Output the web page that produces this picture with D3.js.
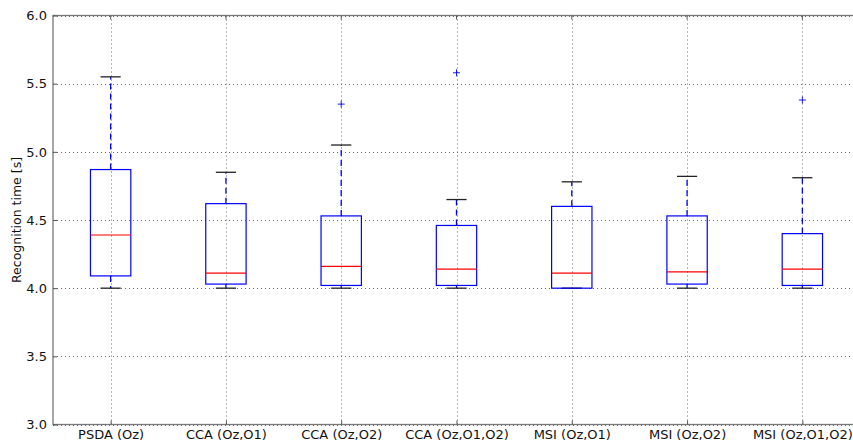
<!DOCTYPE html>
<html>
<head>
<meta charset="utf-8">
<script src="https://cdn.jsdelivr.net/npm/d3@7"></script>
<style>
  html, body { margin: 0; padding: 0; background: #fff; overflow: hidden; }
  svg { display: block; }
</style>
</head>
<body>
<svg id="chart" width="853" height="446"></svg>
<script>
// Recognition-time distributions per detection method
const categories = ["PSDA (Oz)", "CCA (Oz,O1)", "CCA (Oz,O2)", "CCA (Oz,O1,O2)", "MSI (Oz,O1)", "MSI (Oz,O2)", "MSI (Oz,O1,O2)"];
const whiskerLow  = [4.00, 4.00, 4.00, 4.00, 4.00, 4.00, 4.00];
const quartile1   = [4.09, 4.03, 4.02, 4.02, 4.00, 4.03, 4.02];
const medians     = [4.39, 4.11, 4.16, 4.14, 4.11, 4.12, 4.14];
const quartile3   = [4.87, 4.62, 4.53, 4.46, 4.60, 4.53, 4.40];
const whiskerHigh = [5.55, 4.85, 5.05, 4.65, 4.78, 4.82, 4.81];
const outliers    = [[], [], [5.35], [5.58], [], [], [5.38]];
const yTicks = [3.0, 3.5, 4.0, 4.5, 5.0, 5.5, 6.0];

const FONT = "DejaVu Sans, sans-serif";
const svg = d3.select("#chart");
const plotLeft = 53, plotTop = 15.5, plotBottom = 424.5, plotRight = 860;

const x = d3.scaleLinear().domain([0.5, categories.length + 0.5]).range([plotLeft, plotRight]);
const y = d3.scaleLinear().domain([3, 6]).range([plotBottom, plotTop]);

const boxes = categories.map((c, i) => ({
  name: c, pos: i + 1,
  lo: whiskerLow[i], q1: quartile1[i], med: medians[i], q3: quartile3[i], hi: whiskerHigh[i],
  out: outliers[i]
}));

const gridColor = "#666";
const g = svg.append("g");

// dotted grid
g.selectAll("line.hgrid").data(yTicks).join("line")
  .attr("x1", plotLeft).attr("x2", plotRight)
  .attr("y1", d => Math.round(y(d)) + 0.5).attr("y2", d => Math.round(y(d)) + 0.5)
  .attr("stroke", gridColor).attr("stroke-width", 1).attr("stroke-dasharray", "1,3");
g.selectAll("line.vgrid").data(boxes).join("line")
  .attr("x1", d => Math.round(x(d.pos)) + 0.5).attr("x2", d => Math.round(x(d.pos)) + 0.5)
  .attr("y1", plotTop).attr("y2", plotBottom)
  .attr("stroke", gridColor).attr("stroke-width", 1).attr("stroke-dasharray", "1,3");

const halfBox = (x(1.35) - x(1)) / 2;
const halfCap = halfBox / 2;

const bx = g.selectAll("g.box").data(boxes).join("g").attr("class", "box");

// whiskers
bx.append("line")
  .attr("x1", d => x(d.pos)).attr("x2", d => x(d.pos))
  .attr("y1", d => y(d.q3)).attr("y2", d => y(d.hi))
  .attr("stroke", "#0000ff").attr("stroke-width", 1.3).attr("stroke-dasharray", "6,4");
bx.append("line")
  .attr("x1", d => x(d.pos)).attr("x2", d => x(d.pos))
  .attr("y1", d => y(d.q1)).attr("y2", d => y(d.lo))
  .attr("stroke", "#0000ff").attr("stroke-width", 1.3).attr("stroke-dasharray", "6,4");
// caps
bx.selectAll("line.cap").data(d => [d.lo, d.hi].map(v => ({ pos: d.pos, v }))).join("line")
  .attr("x1", d => x(d.pos) - halfCap).attr("x2", d => x(d.pos) + halfCap)
  .attr("y1", d => y(d.v)).attr("y2", d => y(d.v))
  .attr("stroke", "#222").attr("stroke-width", 1.3);
// box
bx.append("rect")
  .attr("x", d => x(d.pos) - halfBox).attr("width", 2 * halfBox)
  .attr("y", d => y(d.q3)).attr("height", d => y(d.q1) - y(d.q3))
  .attr("fill", "none").attr("stroke", "#0000ff").attr("stroke-width", 1.2);
// median
bx.append("line")
  .attr("x1", d => x(d.pos) - halfBox).attr("x2", d => x(d.pos) + halfBox)
  .attr("y1", d => y(d.med)).attr("y2", d => y(d.med))
  .attr("stroke", "#ff0000").attr("stroke-width", 1.2);
// fliers
bx.selectAll("path.flier").data(d => d.out.map(v => ({ pos: d.pos, v }))).join("path")
  .attr("d", d => {
    const cx = x(d.pos), cy = y(d.v), s = 3.5;
    return `M${cx - s},${cy}H${cx + s}M${cx},${cy - s}V${cy + s}`;
  })
  .attr("stroke", "#0000ff").attr("stroke-width", 0.9).attr("fill", "none");

// frame
g.append("rect")
  .attr("x", plotLeft).attr("y", plotTop).attr("width", plotRight - plotLeft).attr("height", plotBottom - plotTop)
  .attr("fill", "none").attr("stroke", "#777").attr("stroke-width", 1.3);

// axes (inward ticks)
const yAxis = d3.axisLeft(y).tickValues(yTicks).tickFormat(d3.format(".1f")).tickSizeInner(-4).tickSizeOuter(0).tickPadding(6);
const yg = svg.append("g").attr("transform", `translate(${plotLeft},0)`).call(yAxis)
  .attr("font-family", FONT).attr("font-size", 13);
yg.select(".domain").remove();
yg.selectAll(".tick line").attr("stroke", "#555");
yg.selectAll("text").attr("fill", "#111");

const xAxis = d3.axisBottom(x).tickValues(boxes.map(d => d.pos)).tickFormat(i => categories[i - 1]).tickSizeInner(-4).tickSizeOuter(0).tickPadding(5);
const xg = svg.append("g").attr("transform", `translate(0,${plotBottom})`).call(xAxis)
  .attr("font-family", FONT).attr("font-size", 13);
xg.select(".domain").remove();
xg.selectAll(".tick line").attr("stroke", "#555");
xg.selectAll("text").attr("fill", "#111");

// top ticks
svg.selectAll("line.topTick").data(boxes).join("line")
  .attr("x1", d => x(d.pos)).attr("x2", d => x(d.pos))
  .attr("y1", plotTop).attr("y2", plotTop + 4).attr("stroke", "#555");

svg.append("text")
  .attr("transform", `translate(21,${(plotTop + plotBottom) / 2}) rotate(-90)`)
  .attr("text-anchor", "middle").attr("font-family", FONT).attr("font-size", 12.5).attr("fill", "#111")
  .text("Recognition time [s]");
</script>
</body>
</html>
